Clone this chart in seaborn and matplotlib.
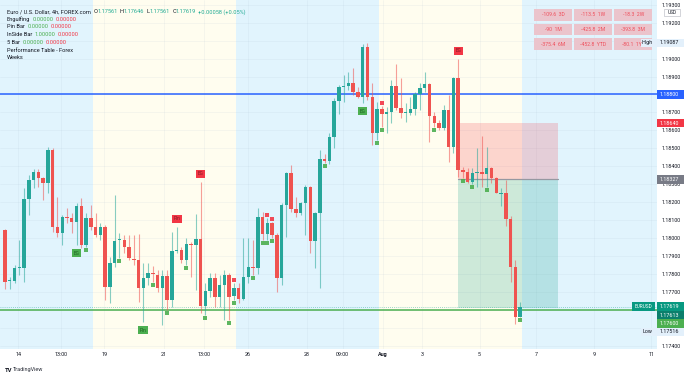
import matplotlib
matplotlib.use('Agg')
import matplotlib.pyplot as plt
from matplotlib.patches import Rectangle
import seaborn as sns
import numpy as np
import pandas as pd

# EURUSD 4h candles (oldest first)
opens = [
    1.18045, 1.17761, 1.17761, 1.17834, 1.17834, 1.18218, 1.18324, 1.18368, 1.18335, 1.18307,
    1.18491, 1.18062, 1.18029, 1.18118, 1.18112, 1.18090, 1.18179, 1.17962, 1.18112, 1.18062,
    1.18018, 1.18062, 1.17728, 1.17862, 1.17990, 1.17990, 1.17951, 1.17884, 1.17878, 1.17722,
    1.17778, 1.17806, 1.17795, 1.17722, 1.17789, 1.17656, 1.17928, 1.17934, 1.17878, 1.17967,
    1.17962, 1.17995, 1.17622, 1.17706, 1.17778, 1.17672, 1.17739, 1.17795, 1.17678, 1.17722,
    1.17661, 1.17784, 1.17839, 1.17834, 1.18118, 1.18023, 1.18084, 1.18018, 1.17778, 1.18185,
    1.18363, 1.18162, 1.18140, 1.18196, 1.18285, 1.17984, 1.18140, 1.18441, 1.18430, 1.18563,
    1.18764, 1.18842, 1.18847, 1.18864, 1.18814, 1.18786, 1.19064, 1.18786, 1.18585, 1.18719,
    1.18691, 1.18702, 1.18847, 1.18725, 1.18697, 1.18697, 1.18719, 1.18803, 1.18836, 1.18858,
    1.18680, 1.18641, 1.18613, 1.18714, 1.18507, 1.18892, 1.18379, 1.18368, 1.18313, 1.18363,
    1.18368, 1.18357, 1.18391, 1.18335, 1.18246, 1.18251, 1.18107, 1.17839, 1.17561]
highs = [
    1.18051, 1.17784, 1.17851, 1.17990, 1.18279, 1.18352, 1.18385, 1.18385, 1.18340, 1.18507,
    1.18502, 1.18229, 1.18129, 1.18168, 1.18140, 1.18196, 1.18224, 1.18140, 1.18185, 1.18140,
    1.18084, 1.18073, 1.17895, 1.18240, 1.18029, 1.18018, 1.18018, 1.18018, 1.18023, 1.17862,
    1.17862, 1.17845, 1.17823, 1.17823, 1.17823, 1.18034, 1.18062, 1.17951, 1.18001, 1.17979,
    1.18134, 1.18313, 1.17750, 1.17806, 1.17806, 1.17795, 1.17823, 1.17806, 1.17750, 1.17750,
    1.18001, 1.18001, 1.17990, 1.18168, 1.18146, 1.18112, 1.18090, 1.18029, 1.18196, 1.18368,
    1.18407, 1.18229, 1.18201, 1.18296, 1.18290, 1.18146, 1.18491, 1.18469, 1.18585, 1.18780,
    1.18853, 1.18908, 1.18925, 1.18947, 1.18842, 1.19081, 1.19087, 1.18864, 1.18758, 1.18736,
    1.18730, 1.18881, 1.18970, 1.18892, 1.18753, 1.18786, 1.18814, 1.18864, 1.18925, 1.18864,
    1.18702, 1.18658, 1.18741, 1.18797, 1.18897, 1.18998, 1.18396, 1.18391, 1.18391, 1.18502,
    1.18569, 1.18507, 1.18396, 1.18340, 1.18279, 1.18324, 1.18123, 1.17878, 1.17646]
lows = [
    1.17717, 1.17717, 1.17750, 1.17795, 1.17756, 1.18129, 1.18279, 1.18285, 1.18212, 1.18251,
    1.18034, 1.18006, 1.17962, 1.18084, 1.18029, 1.17962, 1.17945, 1.17951, 1.18045, 1.18006,
    1.17990, 1.17656, 1.17639, 1.17839, 1.17890, 1.17917, 1.17878, 1.17851, 1.17645, 1.17533,
    1.17739, 1.17756, 1.17700, 1.17516, 1.17600, 1.17617, 1.17917, 1.17862, 1.17851, 1.17784,
    1.17711, 1.17583, 1.17572, 1.17672, 1.17617, 1.17617, 1.17544, 1.17544, 1.17656, 1.17639,
    1.17656, 1.17750, 1.17795, 1.17800, 1.17990, 1.17990, 1.18001, 1.17700, 1.17739, 1.18006,
    1.18146, 1.18118, 1.18129, 1.18018, 1.17917, 1.17834, 1.17722, 1.18418, 1.18413, 1.18502,
    1.18691, 1.18758, 1.18825, 1.18797, 1.18780, 1.18753, 1.18769, 1.18519, 1.18546, 1.18619,
    1.18585, 1.18641, 1.18714, 1.18669, 1.18647, 1.18686, 1.18686, 1.18714, 1.18814, 1.18535,
    1.18619, 1.18602, 1.18602, 1.18424, 1.18474, 1.18340, 1.18335, 1.18307, 1.18302, 1.18285,
    1.18285, 1.18285, 1.18307, 1.18251, 1.18179, 1.18068, 1.17756, 1.17520, 1.17561]
closes = [
    1.17756, 1.17767, 1.17834, 1.17839, 1.18218, 1.18324, 1.18368, 1.18335, 1.18307, 1.18491,
    1.18062, 1.18029, 1.18118, 1.18112, 1.18090, 1.18179, 1.17962, 1.18112, 1.18062, 1.18018,
    1.18062, 1.17728, 1.17862, 1.17984, 1.17993, 1.17951, 1.17890, 1.17878, 1.17722, 1.17778,
    1.17806, 1.17800, 1.17722, 1.17789, 1.17656, 1.17928, 1.17934, 1.17878, 1.17967, 1.17962,
    1.17995, 1.17622, 1.17706, 1.17778, 1.17672, 1.17739, 1.17795, 1.17672, 1.17722, 1.17661,
    1.17784, 1.17839, 1.17834, 1.18118, 1.18023, 1.18084, 1.18018, 1.17778, 1.18185, 1.18363,
    1.18162, 1.18140, 1.18196, 1.18285, 1.17984, 1.18140, 1.18441, 1.18430, 1.18563, 1.18764,
    1.18842, 1.18847, 1.18864, 1.18814, 1.18786, 1.19064, 1.18786, 1.18585, 1.18719, 1.18691,
    1.18702, 1.18847, 1.18725, 1.18697, 1.18700, 1.18719, 1.18803, 1.18836, 1.18858, 1.18680,
    1.18641, 1.18613, 1.18714, 1.18507, 1.18892, 1.18379, 1.18368, 1.18313, 1.18363, 1.18368,
    1.18357, 1.18391, 1.18335, 1.18251, 1.18251, 1.18107, 1.17839, 1.17561, 1.17619]

# pattern markers (candle index)
bull_labels = [(15, 'EG'), (29, 'Pin'), (75, 'EG')]
bear_labels = [(36, 'Pin'), (41, 'EG'), (95, 'EG')]
bull_dots = [17, 24, 31, 34, 38, 42, 47, 48, 52, 54, 55, 56, 67, 78, 79, 90, 96, 98, 101, 108]
bear_dots = [48, 55, 56, 79]

# week shading edges (candle index)
week_edges = [-1.05, 18.4, 48.4, 78.4, 108.4, 137.0]

# time axis
tick_pos = [2.8, 11.8, 20.8, 33.3, 41.7, 51.0, 63.3, 70.8, 79.3, 87.5, 99.5, 111.3, 123.5, 135.5]
tick_lab = ['14', '13:00', '19', '21', '13:00', '26', '28', '09:00', 'Aug', '3', '5', '7', '9', '11']

# horizontal levels and short position tool
level_blue = 1.18800
level_green = 1.17600
pos_start, pos_end = 95, 116
pos_entry, pos_stop, pos_target = 1.18327, 1.18640, 1.17613

# performance table
perf_vals = ['-109.6', '-113.5', '-18.3', '-90', '-425.8', '-393.8', '-375.4', '-452.8', '-80.1']
perf_per = ['3D', '1W', '2W', '1M', '2M', '3M', '6M', 'YTD', '1Y']

ohlc = ('1.17561', '1.17646', '1.17561', '1.17619')
change = '+0.00058 (+0.05%)'
ind_rows = [('Engulfing', '0.00000', '0.00000'), ('Pin Bar', '0.00000', '0.00000'),
            ('InSide Bar', '1.00000', '0.00000'), ('5 Bar', '0.00000', '0.00000')]

UP, DN = '#26a69a', '#ef5350'
FS = 3.9

sns.set_style('white')
plt.rcParams['font.family'] = ['Roboto', 'DejaVu Sans']

W, H = 690, 377
fig = plt.figure(figsize=(W / 100, H / 100), dpi=100)
ax = fig.add_axes([0, 28 / H, 657 / W, 349 / H])
ax.set_xlim(-1.05, 136.7)
ax.set_ylim(1.17383, 1.19326)

# background week bands
for k in range(len(week_edges) - 1):
    ax.axvspan(week_edges[k], week_edges[k + 1], color=['#e1f4fd', '#fffdef'][k % 2], lw=0, zorder=0)

# grid
yt = np.round(np.arange(1.174, 1.1935, 0.001), 3)
for p in yt:
    ax.axhline(p, color='#9db4c8', lw=0.4, alpha=0.18, zorder=0.5)
for t in tick_pos:
    ax.axvline(t, color='#9db4c8', lw=0.4, alpha=0.18, zorder=0.5)

df = pd.DataFrame({'o': opens, 'h': highs, 'l': lows, 'c': closes})
df['i'] = np.arange(len(df))
cols = np.where(df.c >= df.o, UP, DN)

# position tool
ax.add_patch(Rectangle((pos_start, pos_entry), pos_end - pos_start, pos_stop - pos_entry,
                       fc=(242 / 255, 54 / 255, 69 / 255, 0.2), ec='none', zorder=1))
ax.add_patch(Rectangle((pos_start, pos_target), pos_end - pos_start, pos_entry - pos_target,
                       fc=(8 / 255, 153 / 255, 129 / 255, 0.2), ec='none', zorder=1))
ax.plot([pos_start, pos_end], [pos_entry, pos_entry], color='#9598a1', lw=0.9, zorder=1.2)

# levels
ax.axhline(level_blue, color='#2962ff', lw=1.1, zorder=1.5)
ax.axhline(level_green, color='#4caf50', lw=1.1, zorder=1.5)
ax.axhline(closes[-1], color='#26a69a', lw=0.6, ls=(0, (1, 1.5)), alpha=0.6, zorder=1.5)

# candles
ax.vlines(df.i, df.l, df.h, colors=cols, lw=0.8, alpha=0.55, zorder=2)
body = np.maximum((df.c - df.o).abs(), 0.00004)
ax.bar(df.i, body, bottom=np.minimum(df.o, df.c), width=0.72, color=cols, lw=0, zorder=3)

# dots
bd = df.loc[bull_dots]
sns.scatterplot(x=bd.i, y=bd.l - 0.00018, marker='s', s=5, color='#4caf50', alpha=0.9,
                linewidth=0, ax=ax, zorder=4, legend=False)
rd = df.loc[bear_dots]
sns.scatterplot(x=rd.i, y=rd.h + 0.00018, marker='s', s=5, color='#f23645', alpha=0.9,
                linewidth=0, ax=ax, zorder=4, legend=False)

# labels
for i, s in bull_labels:
    ax.text(i, lows[i] - 0.00032, s, ha='center', va='top', fontsize=3.4, color='#1b5e20',
            zorder=5, bbox=dict(boxstyle='square,pad=0.35', fc='#4caf50', ec='none'))
for i, s in bear_labels:
    ax.text(i, highs[i] + 0.00032, s, ha='center', va='bottom', fontsize=3.4, color='#801922',
            zorder=5, bbox=dict(boxstyle='square,pad=0.35', fc='#f23645', ec='none'))

# tag prices hide the axis labels under them
tag_prices = [level_blue, pos_stop, pos_entry, closes[-1], pos_target, level_green,
              min(lows), max(highs)]
tag_rows = [1.17619, 1.17613, 1.17600, 1.17520]

# axes
ax.yaxis.tick_right()
ax.set_yticks(yt)
ylabs = []
for p in yt:
    hidden = any(abs(p - q) < 0.00022 for q in tag_prices) or (min(tag_rows) - 0.0003 < p < max(tag_rows))
    ylabs.append('' if hidden else f'{p:.5f}')
ax.set_yticklabels(ylabs)
ax.set_xticks(tick_pos)
ax.set_xticklabels(tick_lab)
ax.tick_params(axis='y', length=0, pad=3, labelsize=FS, colors='#131722')
ax.tick_params(axis='x', length=0, pad=2, labelsize=FS, colors='#131722')
for lab in ax.get_xticklabels():
    if lab.get_text() == 'Aug':
        lab.set_fontweight('bold')
for sp in ax.spines.values():
    sp.set_visible(False)
ax.set_xlabel('')
ax.set_ylabel('')

renderer = fig.canvas.get_renderer()


def fy(p):
    return ax.transData.transform((0, p))[1] / fig.bbox.height


def ftext(x, y, s, **kw):
    kw.setdefault('fontsize', FS)
    kw.setdefault('va', 'center')
    return fig.text(x / W, 1 - y / H, s, **kw)


def chain(x, y, parts, fs):
    # write pieces one after the other, gap in pixels before each piece
    for gap, s, color in parts:
        x += gap
        t = ftext(x, y, s, color=color, fontsize=fs)
        x = t.get_window_extent(renderer).x1


def box(x0, x1, yc, h, fc, ec='none'):
    fig.patches.append(Rectangle((x0 / W, yc - h / 2 / H), (x1 - x0) / W, h / H,
                                 transform=fig.transFigure, fc=fc, ec=ec, lw=0.4, zorder=5))


def tag(yc, text, fc, tc='white'):
    box(657, 684, yc, 8.5, fc)
    fig.text(660 / W, yc, text, color=tc, fontsize=FS, va='center', zorder=6)


# price tags
tag(fy(level_blue), f'{level_blue:.5f}', '#2962ff')
tag(fy(pos_stop), f'{pos_stop:.5f}', '#f23645')
tag(fy(pos_entry), f'{pos_entry:.5f}', '#787b86')
y0 = fy(closes[-1])
box(632, 655, y0, 8.5, '#089981')
fig.text(643.5 / W, y0, 'EURUSD', color='white', fontsize=3.4, ha='center', va='center', zorder=6)
tag(y0, f'{closes[-1]:.5f}', '#089981')
step = 8.4 / H
y1 = min(fy(pos_target), y0 - step)
tag(y1, f'{pos_target:.5f}', '#0b7f6c')
y2 = min(fy(level_green), y1 - step)
tag(y2, f'{level_green:.5f}', '#4caf50')
y3 = min(fy(min(lows)), y2 - step)
box(641, 684, y3, 8.5, '#e3f0fb')
fig.text(642.5 / W, y3, 'Low', color='#131722', fontsize=FS, va='center', zorder=6)
fig.text(660 / W, y3, f'{min(lows):.5f}', color='#131722', fontsize=FS, va='center', zorder=6)

# performance table
for k in range(9):
    r, c = divmod(k, 3)
    x0 = 534 + c * 40.2
    yc = 15 + r * 14.5
    box(x0, x0 + 38, 1 - yc / H, 11.5, '#ebc4cc')
    ftext(x0 + 17 if k == 8 else x0 + 19, yc, f'{perf_vals[k]}  {perf_per[k]}',
          color='#ef4f5c', ha='center', zorder=6, fontsize=3.7)

yh = fy(max(highs))
box(641, 684, yh, 8.5, '#e3f0fb')
fig.text(642 / W, yh, 'High', color='#131722', fontsize=FS, va='center', zorder=6)
fig.text(660 / W, yh, f'{max(highs):.5f}', color='#131722', fontsize=FS, va='center', zorder=6)

box(664, 680, 1 - 12 / H, 7, 'white', ec='#b2b5be')
ftext(672, 12, 'USD', color='#131722', ha='center', fontsize=3.4, zorder=6)

# legend, top left
dark, grn, red = '#131722', '#22ab94', '#f23645'
LF = 4.1
line1 = [(0, 'Euro / U.S. Dollar, 4h, FOREX.com', dark)]
for letter, val in zip('OHLC', ohlc):
    line1 += [(2.5, letter, dark), (-0.2, val, grn)]
line1.append((2.5, change, grn))
chain(7, 11.7, line1, LF)
for r, (name, v1, v2) in enumerate(ind_rows):
    chain(7, 19.3 + r * 7.6, [(0, name, dark), (2.6, v1, '#4caf50'), (2.0, v2, red)], LF)
ftext(7, 50, 'Performance Table - Forex', color=dark, fontsize=LF)
ftext(7, 57.5, 'Weeks', color=dark, fontsize=LF)

# footer
ftext(5, 370, 'TV', color=dark, fontsize=4.2, fontweight='bold')
ftext(13, 370, 'TradingView', color='#2a2e39', fontsize=4.0)

fig.savefig('out.png', dpi=100)
